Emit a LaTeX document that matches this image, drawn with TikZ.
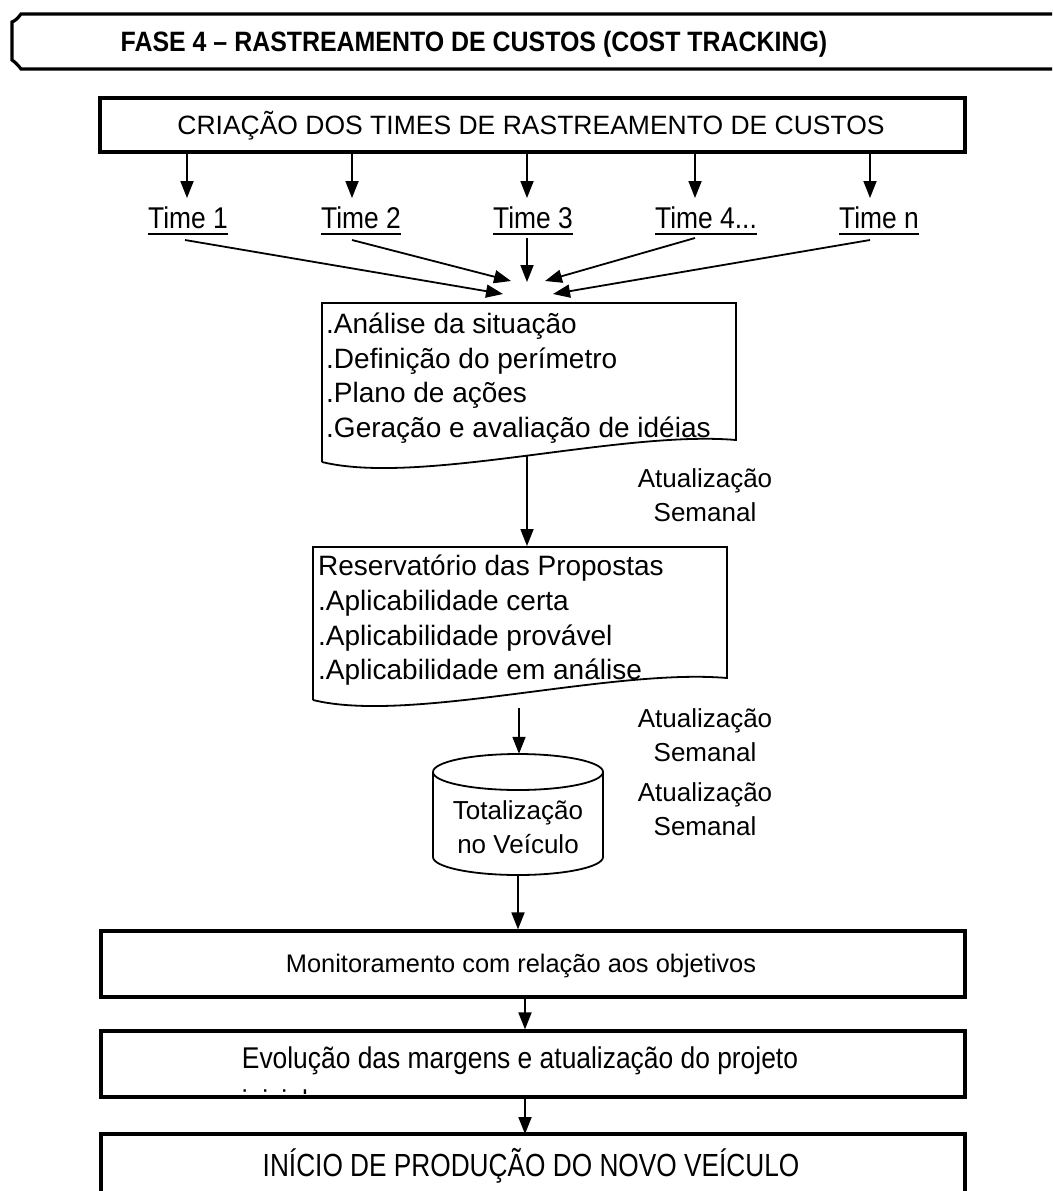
\documentclass[tikz,border=0pt]{standalone}
\usepackage{fontspec}
\setmainfont{Liberation Sans}
\newfontfamily\hdrfont[FakeStretch=0.89]{Liberation Sans}
\newfontfamily\teamfont[FakeStretch=0.88]{Liberation Sans}
\newfontfamily\condfont[FakeStretch=0.88]{Liberation Sans}
\newfontfamily\narrowfont[FakeStretch=0.82]{Liberation Sans}
\usetikzlibrary{arrows.meta,calc}
\newcommand\teamfour{Time 4...}

\begin{document}
\begin{tikzpicture}[x=1pt,y=-1pt,
  flow/.style={-{Triangle[length=17pt,width=13pt]}, line width=1.8pt},
  frame/.style={draw, line width=3.2pt, inner sep=0pt},
  docline/.style={line width=1.8pt},
  plain/.style={inner sep=0pt, font=\fontsize{28}{34}\selectfont},
  lbl/.style={inner sep=0pt, align=center, font=\fontsize{26}{34}\selectfont}]
\useasboundingbox (0,0) rectangle (1052,1191);
\clip (0,0) rectangle (1052,1191);

% ---- phase header ----
\draw[line width=3.2pt] (1060,14) -- (21,14) .. controls (18,18) and (15,21) .. (12,22)
  -- (12,60) .. controls (15,62) and (18,65) .. (21,69) -- (1060,69);
\node[inner sep=0pt, anchor=base, font=\hdrfont\bfseries\fontsize{28}{34}\selectfont]
  (hdr) at (474,51) {FASE 4 – RASTREAMENTO DE CUSTOS (COST TRACKING)};

% ---- team creation ----
\node[frame, minimum width=865pt, minimum height=54pt] (top) at (532.5,125) {};
\node[inner sep=0pt, anchor=base, font=\fontsize{26.5}{32}\selectfont]
  (toptxt) at (531,134) {CRIAÇÃO DOS TIMES DE RASTREAMENTO DE CUSTOS};

% ---- teams ----
\foreach \n/\x/\ax/\lab in {1/188/187/{Time 1}, 2/361/352/{Time 2}, 3/533/527/{Time 3},
                            4/706/695/{\teamfour}, 5/879/870/{Time n}}{
  \node[inner sep=0pt, anchor=base, font=\teamfont\fontsize{30}{36}\selectfont]
    (t\n) at (\x,228) {\lab};
  \draw[line width=1.8pt] ($(t\n.base west)+(0,6)$) -- ($(t\n.base east)+(0,6)$);
  \coordinate (in\n) at (\ax,198);
  \draw[flow] (top.south -| in\n) -- (in\n);
}

% ---- analysis document ----
\draw[docline] (322,462) -- (322,303) -- (736,303) -- (736,440)
  .. controls (620,430) and (420,486) .. (322,462);
\foreach \i/\y/\txt in {1/333/{.Análise da situação}, 2/368/{.Definição do perímetro},
                        3/402/{.Plano de ações}, 4/437/{.Geração e avaliação de idéias}}{
  \node[plain, anchor=base west] (d1l\i) at (326,\y) {\txt};
}

% converging arrows from the teams
\coordinate (c1) at (503,294);
\coordinate (c2) at (511,281);
\coordinate (c3) at (527,282);
\coordinate (c4) at (545,281);
\coordinate (c5) at (553,294);
\draw[flow] ($(t1.base)+(-3,12)$) -- (c1);
\draw[flow] ($(t2.base)+(-9,12)$) -- (c2);
\draw[flow] ($(t3.base)+(-6,10)$) -- (c3);
\draw[flow] ($(t4.base)+(-11,10)$) -- (c4);
\draw[flow] ($(t5.base)+(-9,12)$) -- (c5);

% ---- proposals document ----
\draw[docline] (313,700) -- (313,547) -- (727,547) -- (727,678)
  .. controls (610,668) and (410,724) .. (313,700);
\foreach \i/\y/\txt in {1/575/{Reservatório das Propostas}, 2/610/{.Aplicabilidade certa},
                        3/645/{.Aplicabilidade provável}, 4/679/{.Aplicabilidade em análise}}{
  \node[plain, anchor=base west] (d2l\i) at (318,\y) {\txt};
}
\coordinate (d1out) at (527,456);
\coordinate (d2in) at (527,546);
\draw[flow] (d1out) -- (d2in);
\node[lbl] (u1) at (705,495) {Atualização\\Semanal};

% ---- vehicle totalisation (cylinder) ----
\draw[line width=1.8pt] (433,772) -- (433,857)
  arc[start angle=180, end angle=0, x radius=85, y radius=18] -- (603,772);
\draw[line width=1.8pt] (518,772) ellipse [x radius=85, y radius=18];
\node[inner sep=0pt, minimum width=170pt, minimum height=121pt] (cyl) at (518,814.5) {};
\node[lbl] (cyltxt) at (518,827) {Totalização\\no Veículo};
\coordinate (d2out) at (519,708);
\draw[flow] (d2out) -- (d2out |- cyl.north);
\node[lbl] (u2) at (705,735) {Atualização\\Semanal};

% ---- monitoring ----
\node[frame, minimum width=864pt, minimum height=66pt] (mon) at (533,964) {};
\node[inner sep=0pt, anchor=base, font=\fontsize{25.4}{32}\selectfont]
  (montxt) at (521,972) {Monitoramento com relação aos objetivos};
\draw[flow] (cyl.south) -- (cyl.south |- mon.north);
\node[lbl] (u3) at (705,809) {Atualização\\Semanal};

% ---- margins evolution ----
\node[frame, minimum width=864pt, minimum height=66pt] (evo) at (533,1064) {};
\node[inner sep=0pt, anchor=base, font=\condfont\fontsize{30}{36}\selectfont]
  (evotxt) at (520,1068) {Evolução das margens e atualização do projeto};
\begin{scope}
  \clip (103,1033) rectangle (963,1093);
  \node[inner sep=0pt, anchor=base west, font=\condfont\fontsize{30}{36}\selectfont]
    (evotxt2) at (evotxt.base west |- 0,1111) {inicial};
\end{scope}
\coordinate (m1) at (525,997);
\draw[flow] (m1) -- (m1 |- evo.north);

% ---- start of production ----
\draw[line width=3.2pt] (101,1230) -- (101,1134) -- (965,1134) -- (965,1230);
\coordinate (ini) at (525,1134);
\node[inner sep=0pt, anchor=base, font=\narrowfont\fontsize{32}{38}\selectfont]
  (initxt) at (531,1176) {INÍCIO DE PRODUÇÃO DO NOVO VEÍCULO};
\draw[flow] (evo.south -| ini) -- (ini);
\end{tikzpicture}
\end{document}
